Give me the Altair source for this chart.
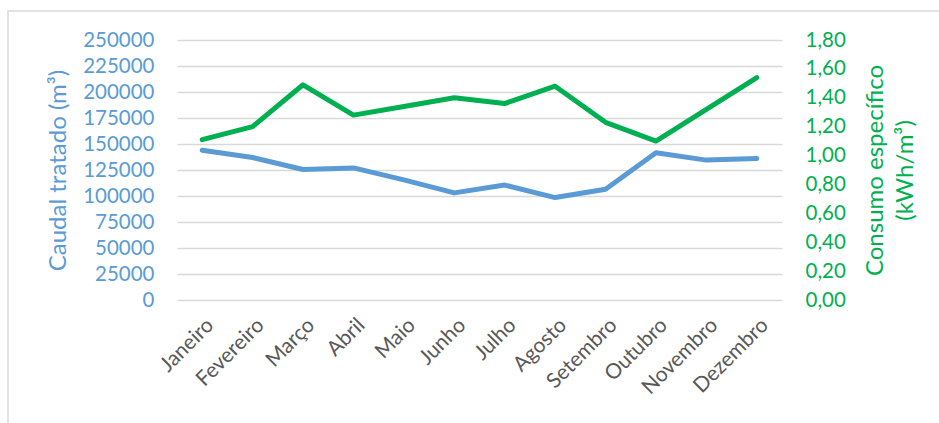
import altair as alt
import pandas as pd

months = ["Janeiro", "Fevereiro", "Março", "Abril", "Maio", "Junho", "Julho",
          "Agosto", "Setembro", "Outubro", "Novembro", "Dezembro"]
caudal = [144000, 137000, 125500, 127000, 115500, 103000, 110500, 98500,
          106500, 141500, 134500, 136000]
consumo = [1.11, 1.20, 1.49, 1.28, 1.34, 1.40, 1.36, 1.48, 1.23, 1.10, 1.32, 1.54]
left_ticks = [0, 25000, 50000, 75000, 100000, 125000, 150000, 175000, 200000, 225000, 250000]
right_ticks = [0, 0.2, 0.4, 0.6, 0.8, 1.0, 1.2, 1.4, 1.6, 1.8]

df = pd.DataFrame({"mes": months, "caudal": caudal, "consumo": consumo})

BLUE = "#5B9BD5"
GREEN = "#00B050"
FONT = "Lato"

W, H = 605, 260
PL, PT = 177, 40

x = alt.X("mes:N", sort=months, title=None,
          axis=alt.Axis(labelAngle=-45, labelColor="#595959", labelFontSize=21,
                        labelFont=FONT, ticks=False, domain=False, grid=False,
                        labelPadding=14))

base = alt.Chart(df)

blue = base.mark_line(color=BLUE, strokeWidth=5, strokeCap="round", strokeJoin="round").encode(
    x=x,
    y=alt.Y("caudal:Q", title="Caudal tratado (m³)",
            scale=alt.Scale(domain=[0, 250000], nice=False, zero=True),
            axis=alt.Axis(values=left_ticks, labelColor=BLUE, titleColor=BLUE,
                          labelFontSize=20.5, titleFontSize=24, labelFont=FONT,
                          titleFont=FONT, titleFontWeight="normal",
                          ticks=False, domain=False, grid=True, gridColor="#D9D9D9",
                          gridWidth=1.5, labelPadding=23, titlePadding=12,
                          format="d"))
)

green = base.mark_line(color=GREEN, strokeWidth=5, strokeCap="round", strokeJoin="round").encode(
    x=x,
    y=alt.Y("consumo:Q", title=["Consumo específico", "(kWh/m³)"],
            scale=alt.Scale(domain=[0, 1.8], nice=False, zero=True),
            axis=alt.Axis(orient="right", values=right_ticks, labelColor=GREEN,
                          titleColor=GREEN, labelFontSize=20.5, titleFontSize=24,
                          labelFont=FONT, titleFont=FONT, titleFontWeight="normal",
                          ticks=False, domain=False, grid=False, labelPadding=23,
                          titlePadding=12, titleAngle=270, titleLineHeight=30,
                          labelExpr="replace(format(datum.value, '.2f'), '.', ',')"))
)

border = alt.Chart(alt.Data(values=[{}])).mark_rect(
    fill=None, stroke="#D9D9D9", strokeWidth=1.5, clip=False
).encode(
    x=alt.value(8 - PL), x2=alt.value(960 - PL),
    y=alt.value(11 - PT), y2=alt.value(440 - PT)
)

chart = alt.layer(border, blue, green).resolve_scale(y="independent").properties(
    width=W, height=H,
    padding={"left": PL, "top": PT, "right": 939 - PL - W, "bottom": 423 - PT - H},
    autosize=alt.AutoSizeParams(type="none"),
    background="white"
).configure_view(stroke=None)

chart.save("out.html", embed_options={"renderer": "svg", "actions": False})
